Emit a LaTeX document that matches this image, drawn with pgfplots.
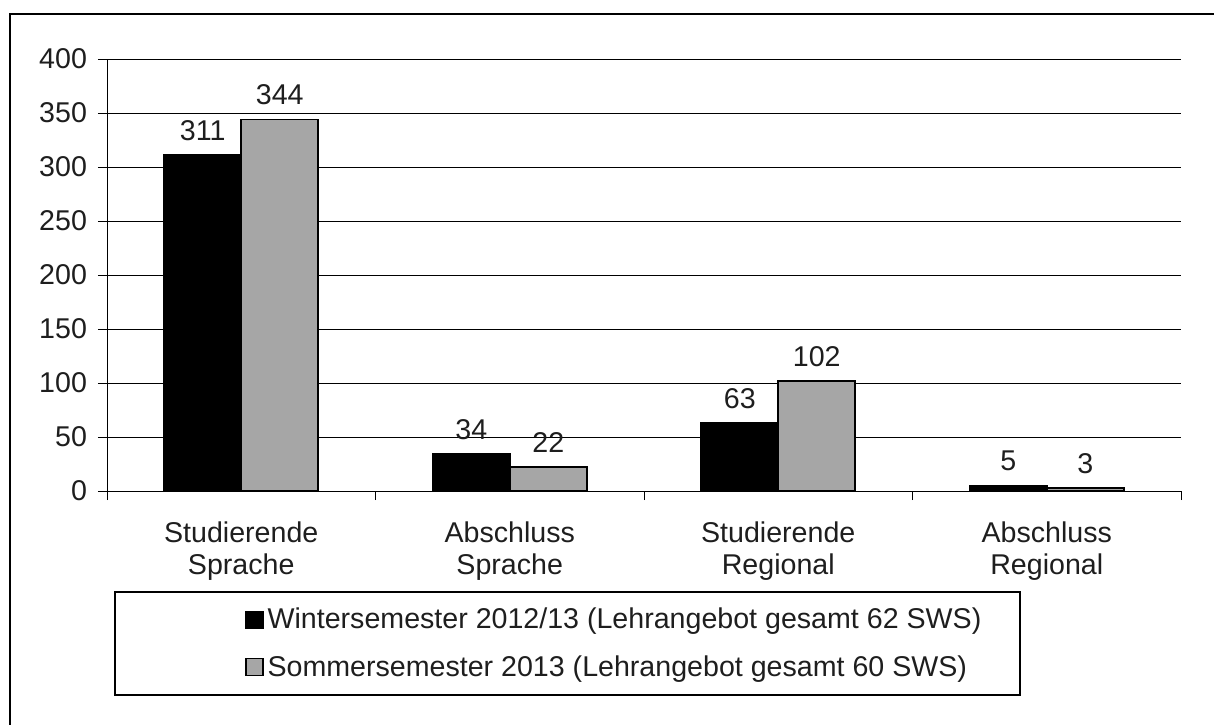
\documentclass[border=0pt]{standalone}
\usepackage{pgfplots}
\pgfplotsset{compat=1.18}
\usepackage{fontspec}
\setmainfont{Liberation Sans}
\definecolor{bargray}{RGB}{166,166,166}
\definecolor{txt}{RGB}{30,30,30}
\newcommand{\fs}{\fontsize{14.3}{15.8}\selectfont}
\begin{document}
\begin{tikzpicture}[x=1pt,y=1pt]
\useasboundingbox (0,0) rectangle (607,362);
\draw[line width=0.8pt] (5,-5) -- (5,355) -- (612,355);
\begin{axis}[
  at={(53.5pt,116.5pt)}, anchor=south west,
  scale only axis, width=537pt, height=216pt,
  xmin=-0.5, xmax=3.5, ymin=0, ymax=400,
  ytick={0,50,...,400},
  xtick={-0.5,0.5,1.5,2.5,3.5}, xticklabels={,,,,,},
  extra x ticks={0,1,2,3},
  extra x tick labels={{Studierende\\Sprache},{Abschluss\\Sprache},{Studierende\\Regional},{Abschluss\\Regional}},
  extra x tick style={major tick length=0pt, grid=none,
     xticklabel style={align=center, font=\fs, text=txt, yshift=-12pt}},
  axis x line*=bottom, axis y line*=left,
  axis line style={black, line width=0.5pt},
  tick align=outside, major tick length=4.5pt,
  tick style={black, line width=0.5pt},
  ymajorgrids, grid style={black, line width=0.5pt},
  yticklabel style={font=\fs, text=txt, xshift=-2pt},
  /pgf/number format/assume math mode=true,
  ybar=0pt, bar width=38.5pt,
  nodes near coords,
  nodes near coords style={font=\fs, text=txt, yshift=3.5pt},
  legend style={draw=none, fill=none, at={(0.1285,-0.353)}, anchor=west,
     font=\fs, text=txt, row sep=8pt, inner sep=0pt},
  legend cell align=left,
  legend image code/.code={\draw[#1, draw=black, line width=0.6pt] (0pt,-4.25pt) rectangle (8.5pt,4.25pt);},
]
\addplot[fill=black, draw=black, line width=0.8pt] coordinates {(0,311) (1,34) (2,63) (3,5)};
\addplot[fill=bargray, draw=black, line width=0.8pt] coordinates {(0,344) (1,22) (2,102) (3,3)};
\legend{Wintersemester 2012/13 (Lehrangebot gesamt 62 SWS), Sommersemester 2013 (Lehrangebot gesamt 60 SWS)}
\end{axis}
\draw[line width=0.6pt] (57.5,14.5) rectangle (510,66);
\end{tikzpicture}
\end{document}
